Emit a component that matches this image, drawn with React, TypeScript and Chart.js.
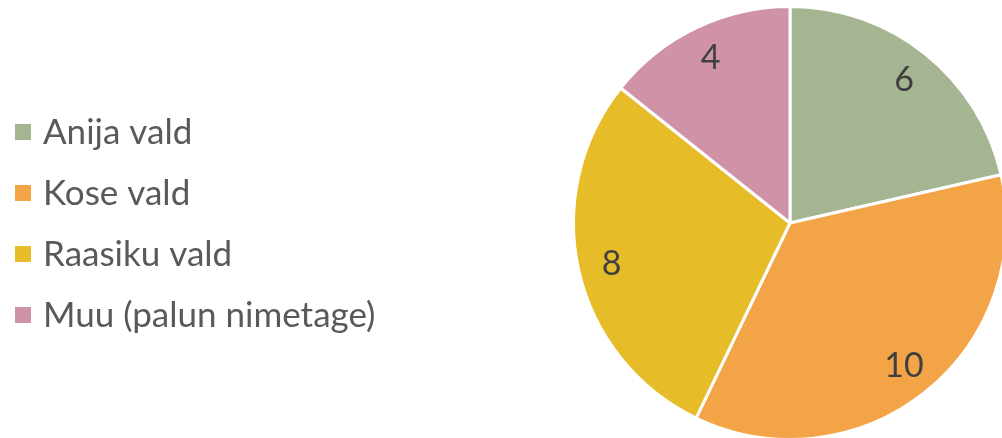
import React, { useEffect, useRef } from "react";
import { Chart, registerables } from "chart.js";

Chart.register(...registerables);

const categories = ["Anija vald", "Kose vald", "Raasiku vald", "Muu (palun nimetage)"];
const values = [6, 10, 8, 4];
const colors = ["#A5B592", "#F3A447", "#E7BC29", "#D092A7"];

const FONT = "Lato, 'Open Sans', sans-serif";

const legendPlugin = {
  id: "customLegend",
  afterDraw(chart: any) {
    const ctx = chart.ctx;
    const labels: string[] = chart.data.labels;
    const bg: string[] = chart.data.datasets[0].backgroundColor;
    ctx.save();
    ctx.font = `35px ${FONT}`;
    ctx.textBaseline = "middle";
    labels.forEach((l, i) => {
      const cy = 132 + i * 61;
      ctx.fillStyle = bg[i];
      ctx.fillRect(15, cy - 8, 16, 16);
      ctx.fillStyle = "#595959";
      ctx.fillText(l, 43, cy + 1);
    });
    ctx.restore();
  },
};

const valueLabelPlugin = {
  id: "valueLabels",
  afterDatasetsDraw(chart: any) {
    const ctx = chart.ctx;
    const meta = chart.getDatasetMeta(0);
    const data = chart.data.datasets[0].data;
    ctx.save();
    ctx.font = `34px ${FONT}`;
    ctx.fillStyle = "#404040";
    ctx.textAlign = "center";
    ctx.textBaseline = "middle";
    meta.data.forEach((arc: any, i: number) => {
      const { x, y, startAngle, endAngle, outerRadius } = arc.getProps(
        ["x", "y", "startAngle", "endAngle", "outerRadius"],
        true
      );
      const mid = (startAngle + endAngle) / 2;
      const r = outerRadius * 0.845;
      ctx.fillText(String(data[i]), x + Math.cos(mid) * r, y + Math.sin(mid) * r);
    });
    ctx.restore();
  },
};

export default function App() {
  const ref = useRef<HTMLCanvasElement | null>(null);
  useEffect(() => {
    document.body.style.margin = "0";
    document.body.style.overflow = "hidden";
    const chart = new Chart(ref.current!, {
      type: "pie",
      data: {
        labels: categories,
        datasets: [
          {
            data: values,
            backgroundColor: colors,
            borderColor: "#ffffff",
            borderWidth: 3,
          },
        ],
      },
      options: {
        responsive: false,
        animation: false,
        layout: { padding: { left: 572, top: 5, right: 0, bottom: 0 } },
        plugins: {
          legend: { display: false },
          tooltip: { enabled: false },
        },
      },
      plugins: [legendPlugin, valueLabelPlugin],
    });
    return () => chart.destroy();
  }, []);
  return <canvas ref={ref} width={1008} height={441} style={{ display: "block" }} />;
}
